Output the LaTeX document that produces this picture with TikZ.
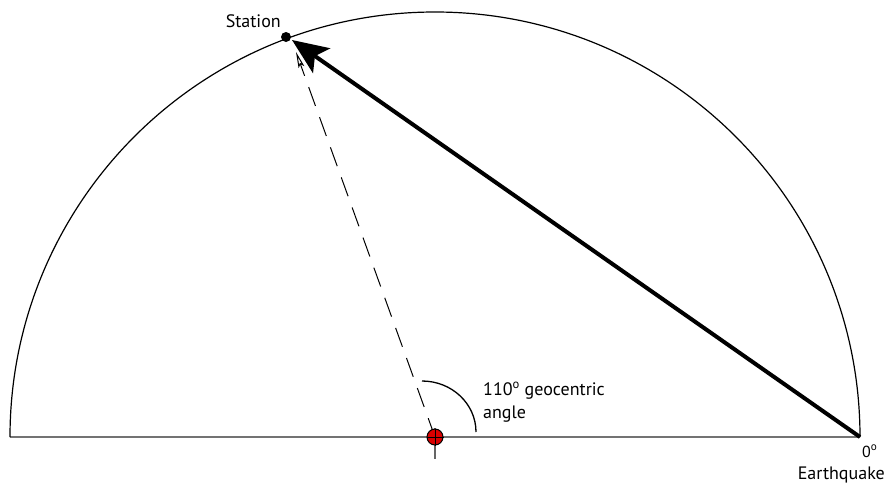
\documentclass[tikz,border=0pt]{standalone}
\usepackage{fontspec}
\setmainfont{PT Sans}
\usetikzlibrary{arrows.meta}
\begin{document}
\begin{tikzpicture}[x=1pt,y=-1pt,
  lbl/.style={inner sep=0pt, font=\fontsize{18}{23}\selectfont},
  base/.style={draw=black!55, line width=2.6pt},
  earth/.style={draw=black, line width=1.2pt},
  ray/.style={draw=black, line width=4pt, -{Stealth[length=36pt,width=30pt,inset=8pt]}},
  dashray/.style={draw=black, line width=1pt, dash pattern=on 20pt off 12pt, -{Stealth[open,length=16pt,width=6pt,inset=3pt]}}]
\useasboundingbox (0,0) rectangle (884,485);
\coordinate (C) at (435,437);
\coordinate (W) at (10,437);
\coordinate (E) at (860,437);
\coordinate (S) at (286,37);
\coordinate (Stip) at (296,52);
\coordinate (Rtip) at (292,40);
% baseline
\draw[base] (W) -- (E);
% half circle
\draw[earth] (W) arc[start angle=180,end angle=360,radius=425];
% dashed ray from centre
\draw[dashray] (C) -- (Stip);
% solid ray from earthquake
\draw[ray] (E) -- (Rtip);
% station dot
\fill (S) circle[radius=5];
% angle arc
\coordinate (A1) at (422,381);
\draw[line width=1.3pt] (A1) arc[start angle=270,end angle=360,x radius=54,y radius=51];
% centre marker
\draw[draw=black!60, line width=1.2pt] (435,428) -- (435,459);
\node[circle, draw=black, fill=red!85!black, line width=1pt, minimum size=16pt, inner sep=0pt] (M) at (C) {};
\draw[line width=1pt] (M.north) -- (M.south) (M.west) -- (M.east);
% labels
\node[lbl, anchor=base east] (st) at (281,27) {Station};
\node[lbl, anchor=base west] (ang1) at (483,395) {110\textsuperscript{o} geocentric};
\node[lbl, anchor=base west] (ang2) at (483,418) {angle};
\node[lbl, anchor=base west, font=\fontsize{16}{20}\selectfont] (zero) at (862,457) {0\textsuperscript{o}};
\node[lbl, anchor=base east] (eq) at (885,479) {Earthquake};
\end{tikzpicture}
\end{document}
